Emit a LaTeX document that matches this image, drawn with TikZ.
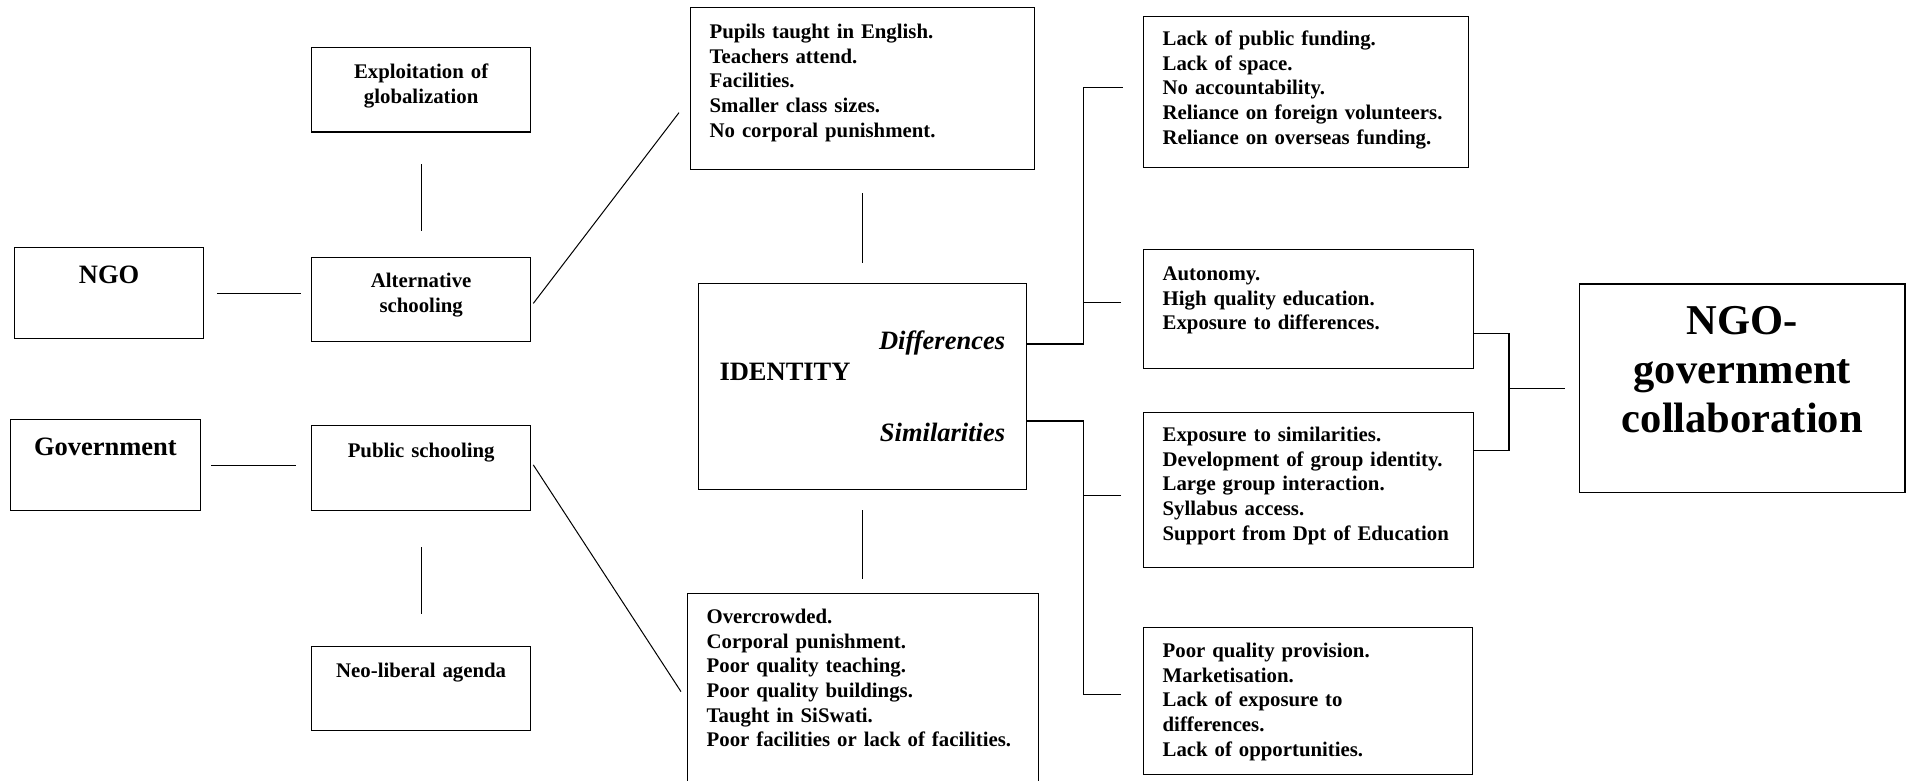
\documentclass[tikz,border=0pt]{standalone}
\usepackage{fontspec}
\setmainfont{Liberation Serif}
\usetikzlibrary{calc}
\tikzset{
  box/.style={
    draw=black,
    line width=1.3pt,
    anchor=north west,
    inner ysep=0pt,
    font=\fontsize{20.8}{24.6}\selectfont\bfseries
  },
  box-list/.style={
    box,
    inner xsep=19pt,
    align=left
  },
  box-small/.style={
    box,
    inner xsep=4pt,
    align=center
  },
  box-title/.style={
    box-small,
    font=\fontsize{26.5}{30}\selectfont\bfseries
  },
  box-big/.style={
    box-small,
    font=\fontsize{42.5}{49}\selectfont\bfseries
  },
  dims/.style n args={3}{text width=#1, text height=#2, text depth=#3},
  ident-text/.style={inner sep=0pt, font=\fontsize{26.5}{30}\selectfont\bfseries},
  ident-side/.style={inner sep=0pt, anchor=base east, font=\fontsize{26.5}{30}\selectfont\bfseries\itshape},
  link/.style={line width=1.3pt},
  link-thin/.style={line width=1pt}
}

\begin{document}
\begin{tikzpicture}[x=1pt, y=-1pt]
  \useasboundingbox (0,0) rectangle (1912,781);
  % left column
  \node[box-small, dims={211pt}{31pt}{53.5pt}] (expl) at (311,47) {Exploitation of\\globalization};
  \node[box-title, dims={181pt}{36pt}{55pt}] (ngo) at (14,247) {NGO};
  \node[box-small, dims={211pt}{30pt}{53.5pt}] (alt) at (311,257) {Alternative\\schooling};
  \node[box-title, dims={181.5pt}{36pt}{55pt}] (gov) at (10,419) {Government};
  \node[box-small, dims={211pt}{32pt}{52.5pt}] (pub) at (311,425) {Public schooling};
  \node[box-small, dims={211pt}{31pt}{53pt}] (neo) at (311,646) {Neo-liberal agenda};
  % middle column
  \node[box-list, dims={306pt}{31pt}{131pt}] (pupils) at (690,7)
    {Pupils taught in English.\\Teachers attend.\\Facilities.\\Smaller class sizes.\\No corporal punishment.};
  \node[box, minimum width=328.5pt, minimum height=206pt, inner sep=0pt] (ident) at (697.5,283) {};
  \node[ident-text, anchor=base west] (identlbl) at ([shift={(21.8,97)}]ident.north west) {IDENTITY};
  \node[ident-side] (diff) at ([shift={(-22,66.5)}]ident.north east) {Differences};
  \node[ident-side] (simil) at ([shift={(-22,158.5)}]ident.north east) {Similarities};
  \node[box-list, dims={313pt}{30pt}{160pt}] (over) at (687,593)
    {Overcrowded.\\Corporal punishment.\\Poor quality teaching.\\Poor quality buildings.\\Taught in SiSwati.\\Poor facilities or lack of facilities.};
  % right column
  \node[box-list, dims={287pt}{29pt}{122pt}] (lack) at (1143,16)
    {Lack of public funding.\\Lack of space.\\No accountability.\\Reliance on foreign volunteers.\\Reliance on overseas funding.};
  \node[box-list, dims={292pt}{31pt}{88pt}] (auto) at (1143,249)
    {Autonomy.\\High quality education.\\Exposure to differences.};
  \node[box-list, dims={292pt}{29pt}{126pt}] (simi) at (1143,412)
    {Exposure to similarities.\\Development of group identity.\\Large group interaction.\\Syllabus access.\\Support from Dpt of Education};
  \node[box-list, dims={290.5pt}{30pt}{117pt}] (poor) at (1143,627)
    {Poor quality provision.\\Marketisation.\\Lack of exposure to\\differences.\\Lack of opportunities.};
  \node[box-big, dims={317.3pt}{50.7pt}{157.7pt}] (collab) at (1579,283.3)
    {NGO-\\government\\collaboration};

  % links on the left
  \draw[link, shorten <=31.5pt, shorten >=26pt] (expl) -- (alt);
  \draw[link, shorten <=36.5pt, shorten >=32pt] (pub) -- (neo);
  \draw[link, shorten <=12.6pt, shorten >=9.7pt] (ngo.east) -- (ngo.east -| alt.west);
  \draw[link, shorten <=10.5pt, shorten >=15pt] (gov.east) -- (gov.east -| pub.west);
  \draw[link-thin] ([shift={(2,4)}]alt.east) -- ([shift={(-11,24)}]pupils.west);
  \draw[link-thin] ([shift={(2,-3)}]pub.east) -- ([shift={(-6,3)}]over.west);
  \draw[link, shorten <=23pt, shorten >=20pt] (pupils.south) -- (pupils.south |- ident.north);
  \draw[link, shorten <=20pt, shorten >=14pt] (ident.south) -- (ident.south |- over.north);

  % differences and similarities
  \coordinate (dsplit) at ([shift={(56,61)}]ident.north east);
  \coordinate (dbranch) at ([shift={(-22,-6.5)}]auto.west);
  \draw[link] (dsplit -| ident.east) -- (dsplit) |- ([shift={(-20,-4.5)}]lack.west);
  \draw[link] (dbranch) -- (dbranch -| dsplit);
  \coordinate (ssplit) at ([shift={(56,138)}]ident.north east);
  \coordinate (sbranch) at ([shift={(-22,5.5)}]simi.west);
  \draw[link] (ssplit -| ident.east) -- (ssplit) |- ([shift={(-22,-6.5)}]poor.west);
  \draw[link] (sbranch) -- (sbranch -| ssplit);

  % collaboration
  \coordinate (merge) at ([shift={(-70,0)}]collab.west);
  \draw[link] ([shift={(0,24.5)}]auto.east) -| (merge) |- ([shift={(0,-39.5)}]simi.east);
  \draw[link, shorten >=14pt] (merge) -- (collab.west);
\end{tikzpicture}
\end{document}
